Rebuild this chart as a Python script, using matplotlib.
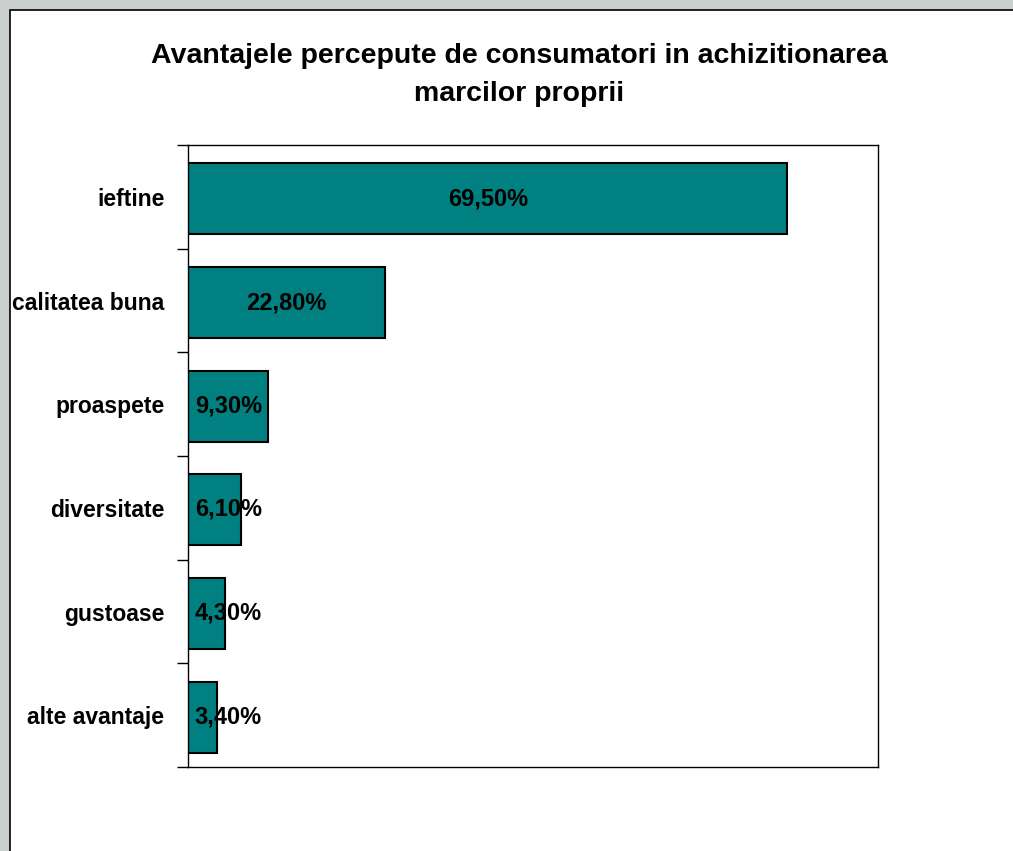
import matplotlib
matplotlib.use("Agg")
import matplotlib.pyplot as plt
from matplotlib.patches import Rectangle

categories = ["ieftine", "calitatea buna", "proaspete", "diversitate", "gustoase", "alte avantaje"]
values = [69.5, 22.8, 9.3, 6.1, 4.3, 3.4]
value_labels = ["69,50%", "22,80%", "9,30%", "6,10%", "4,30%", "3,40%"]
title = "Avantajele percepute de consumatori in achizitionarea\nmarcilor proprii"

W, H = 1013, 851
fig = plt.figure(figsize=(W / 100, H / 100), dpi=100)
fig.patch.set_facecolor("#c9d0cf")
# white chart area with border
bg = Rectangle((10 / W, -0.05), 1.1, (H - 10) / H + 0.05, transform=fig.transFigure,
               facecolor="white", edgecolor="black", linewidth=1.2, zorder=-5)
fig.add_artist(bg)

font = "Liberation Sans"
ax = fig.add_axes([188 / W, 1 - 767 / H, (878 - 188) / W, (767 - 145) / H])
ax.set_zorder(2)
ax.set_facecolor("white")
y = list(range(len(categories)))
ax.barh([yi + 0.02 for yi in y], values, height=0.685, color="#008080", edgecolor="black",
        linewidth=1.5, zorder=2)
ax.set_xlim(0, 80)
ax.set_ylim(len(categories) - 0.5, -0.5)
for yi, v, lab in zip(y, values, value_labels):
    if v > 15:
        ax.text(v / 2, yi + 0.025, lab, ha="center", va="center",
                fontsize=17, fontweight="bold", family=font, zorder=3)
    else:
        ax.text(0.8, yi + 0.015, lab, ha="left", va="center",
                fontsize=17, fontweight="bold", family=font, zorder=3)

ax.set_xticks([])
ax.set_yticks([i - 0.5 for i in range(len(categories) + 1)])
ax.set_yticklabels([])
ax.tick_params(axis="y", which="major", length=8, width=1, direction="out")
ax.set_yticks(y, minor=True)
ax.set_yticklabels(categories, minor=True, fontsize=16.5, fontweight="bold", family=font)
ax.tick_params(axis="y", which="minor", length=0, pad=17)
for s in ax.spines.values():
    s.set_linewidth(1)

fig.text(519 / W, 1 - 75 / H, title, ha="center", va="center", fontsize=20.5, fontweight="bold",
         family=font, linespacing=1.62, zorder=3)

fig.savefig("out.png", dpi=100, facecolor=fig.get_facecolor())
